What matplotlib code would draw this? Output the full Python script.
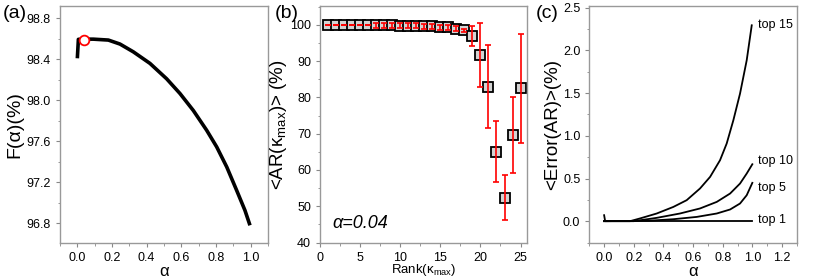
import matplotlib
matplotlib.use('Agg')
import matplotlib.pyplot as plt
from matplotlib.ticker import MultipleLocator

plt.rcParams['font.family'] = ['Liberation Sans', 'DejaVu Sans']
plt.rcParams['mathtext.default'] = 'regular'

# panel (a): F(alpha)
alpha_a = [0.0, 0.006, 0.035, 0.092, 0.179, 0.246, 0.323, 0.419, 0.515, 0.592,
           0.669, 0.746, 0.804, 0.862, 0.919, 0.967, 0.996]
F_a = [98.41, 98.595, 98.597, 98.597, 98.588, 98.549, 98.473, 98.36, 98.21, 98.066,
       97.90, 97.707, 97.544, 97.348, 97.12, 96.924, 96.778]
alpha_opt = 0.04
F_opt = 98.59

# panel (b): <AR(k_max)> vs rank
rank = list(range(1, 26))
AR = [100, 100, 100, 100, 100, 100, 99.9, 99.9, 99.9, 99.8, 99.8, 99.8, 99.6, 99.6, 99.4,
      99.3, 99.0, 98.5, 97.0, 91.8, 83.0, 65.0, 52.4, 69.6, 82.5]
AR_err = [0, 0, 0, 0, 0, 0, 0.7, 0.7, 0.7, 0.7, 0.7, 0.7, 0.7, 0.7, 0.7,
          0.7, 0.8, 0.5, 2.7, 8.8, 11.5, 8.4, 6.1, 10.4, 15.0]

# panel (c): <Error(AR)> vs alpha
alpha_top1 = [0.0, 1.0]
err_top1 = [0.0, 0.0]
alpha_top5 = [0.0, 0.3, 0.467, 0.625, 0.76, 0.85, 0.917, 0.962, 1.0]
err_top5 = [0.0, 0.005, 0.023, 0.05, 0.09, 0.137, 0.207, 0.304, 0.449]
alpha_top10 = [0.0, 0.2, 0.355, 0.512, 0.647, 0.76, 0.85, 0.917, 0.962, 1.0]
err_top10 = [0.0, 0.0, 0.039, 0.09, 0.149, 0.226, 0.324, 0.441, 0.558, 0.667]
alpha_top15 = [0.0, 0.007, 0.175, 0.242, 0.355, 0.467, 0.557, 0.647, 0.715, 0.782,
               0.827, 0.872, 0.917, 0.962, 0.996]
err_top15 = [0.07, 0.0, 0.0, 0.032, 0.09, 0.167, 0.246, 0.383, 0.519, 0.714,
             0.91, 1.183, 1.495, 1.885, 2.295]
curve_names = ['top 1', 'top 5', 'top 10', 'top 15']
label_y = [0.01, 0.39, 0.71, 2.3]

fig = plt.figure(figsize=(8.3, 2.77), dpi=100)
ax1 = fig.add_axes([0.0723, 0.1245, 0.2506, 0.8535])
ax2 = fig.add_axes([0.3855, 0.1245, 0.2494, 0.8535])
ax3 = fig.add_axes([0.710, 0.1245, 0.250, 0.8535])

for ax in (ax1, ax2, ax3):
    for s in ax.spines.values():
        s.set_color('#999999')
        s.set_linewidth(1.0)
    ax.tick_params(which='both', direction='out', color='#888888', labelsize=9)
    ax.tick_params(which='major', length=3)
    ax.tick_params(which='minor', length=1.8)

# (a)
ax1.plot(alpha_a, F_a, color='black', lw=2.6, solid_capstyle='butt')
ax1.plot([alpha_opt], [F_opt], 'o', ms=7, mfc='white', mec='red', mew=1.3)
ax1.set_xlim(-0.1, 1.1)
ax1.set_ylim(96.61, 98.92)
ax1.xaxis.set_major_locator(MultipleLocator(0.2))
ax1.xaxis.set_minor_locator(MultipleLocator(0.1))
ax1.yaxis.set_major_locator(MultipleLocator(0.4))
ax1.yaxis.set_minor_locator(MultipleLocator(0.2))
ax1.yaxis.set_major_formatter(plt.FormatStrFormatter('%.1f'))
ax1.set_xlabel('α', fontsize=12, labelpad=0)
ax1.set_ylabel('F(α)(%)', fontsize=14, labelpad=2)
fig.text(0.003, 0.935, '(a)', fontsize=14)

# (b)
ax2.errorbar(rank, AR, yerr=AR_err, fmt='none', ecolor='red', elinewidth=1.2,
             capsize=2.5, capthick=1.2, zorder=3)
ax2.plot(rank, AR, 's', ms=7.3, mfc='#d3d3d3', mec='black', mew=1.3, zorder=2)
ax2.set_xlim(0, 25.8)
ax2.set_ylim(40, 105.2)
ax2.xaxis.set_major_locator(MultipleLocator(5))
ax2.xaxis.set_minor_locator(MultipleLocator(2.5))
ax2.yaxis.set_major_locator(MultipleLocator(10))
ax2.yaxis.set_minor_locator(MultipleLocator(5))
ax2.set_xlabel('Rank(κ$_{max}$)', fontsize=9.5, labelpad=-1)
ax2.set_ylabel('<AR(κ$_{max}$)> (%)', fontsize=13.5, labelpad=1)
ax2.text(1.6, 44, 'α=0.04', fontsize=13, style='italic')
fig.text(0.331, 0.935, '(b)', fontsize=14)

# (c)
curves = [(alpha_top1, err_top1), (alpha_top5, err_top5),
          (alpha_top10, err_top10), (alpha_top15, err_top15)]
for (xs, ys), name, ly in zip(curves, curve_names, label_y):
    ax3.plot(xs, ys, color='black', lw=1.3)
    ax3.text(1.04, ly, name, fontsize=9, va='center')
ax3.set_xlim(-0.1, 1.3)
ax3.set_ylim(-0.25, 2.52)
ax3.xaxis.set_major_locator(MultipleLocator(0.2))
ax3.xaxis.set_minor_locator(MultipleLocator(0.1))
ax3.yaxis.set_major_locator(MultipleLocator(0.5))
ax3.yaxis.set_minor_locator(MultipleLocator(0.25))
ax3.yaxis.set_major_formatter(plt.FormatStrFormatter('%.1f'))
ax3.set_xticks([0.0, 0.2, 0.4, 0.6, 0.8, 1.0, 1.2])
ax3.set_xlabel('α', fontsize=12, labelpad=0)
ax3.set_ylabel('<Error(AR)>(%)', fontsize=13.5, labelpad=1)
fig.text(0.646, 0.935, '(c)', fontsize=14)

fig.savefig('out.png', dpi=100)
